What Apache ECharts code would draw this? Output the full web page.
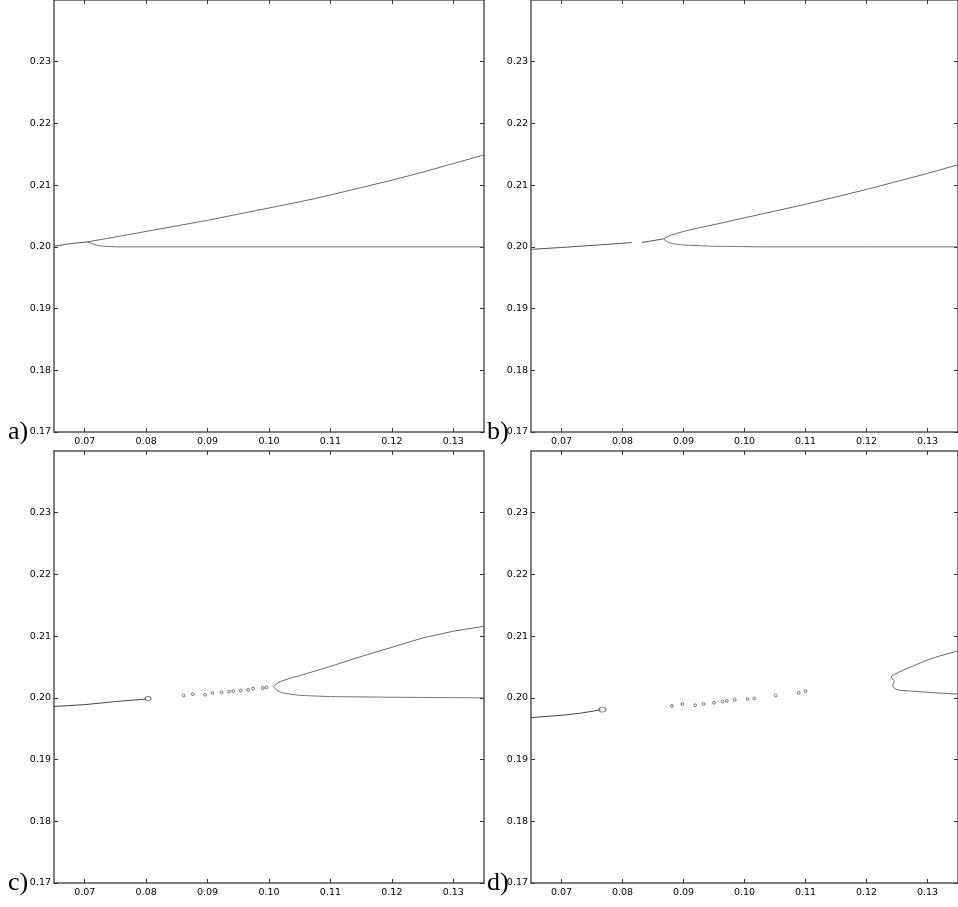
<!DOCTYPE html>
<html>
<head>
<meta charset="utf-8">
<script src="https://cdn.jsdelivr.net/npm/echarts@6/dist/echarts.min.js"></script>
<style>
html,body{margin:0;padding:0;background:#fff;}
#chart{width:958px;height:907px;}
</style>
</head>
<body>
<div id="chart"></div>
<script>
// ---- ticks & labels ----
const xTicks = [0.07, 0.08, 0.09, 0.10, 0.11, 0.12, 0.13];
const yTicks = [0.17, 0.18, 0.19, 0.20, 0.21, 0.22, 0.23];
const panelLabels = ['a)', 'b)', 'c)', 'd)'];

// ---- panel a ----
const aStemX  = [0.0650, 0.0675, 0.0704];
const aStemY  = [0.2001, 0.2005, 0.2008];
const aUpperX = [0.0704, 0.0750, 0.0800, 0.0850, 0.0900, 0.0950, 0.1000, 0.1050, 0.1100, 0.1150, 0.1200, 0.1250, 0.1300, 0.1350];
const aUpperY = [0.2008, 0.2016, 0.2025, 0.2034, 0.2043, 0.2053, 0.2063, 0.2073, 0.2084, 0.2096, 0.2108, 0.2121, 0.2135, 0.2149];
const aLowerX = [0.0704, 0.0710, 0.0718, 0.0730, 0.0752, 0.0800, 0.1000, 0.1200, 0.1350];
const aLowerY = [0.2008, 0.2006, 0.2003, 0.2001, 0.2000, 0.2000, 0.2000, 0.2000, 0.2000];

// ---- panel b ----
const bStem1X = [0.0650, 0.0700, 0.0760, 0.0815];
const bStem1Y = [0.1996, 0.1999, 0.2003, 0.2007];
const bStem2X = [0.0832, 0.0850, 0.0867];
const bStem2Y = [0.2007, 0.2010, 0.2013];
const bUpperX = [0.0867, 0.0873, 0.0880, 0.0900, 0.0921, 0.0950, 0.1000, 0.1050, 0.1100, 0.1150, 0.1200, 0.1250, 0.1300, 0.1350];
const bUpperY = [0.2013, 0.2016, 0.2019, 0.2025, 0.2030, 0.2036, 0.2047, 0.2058, 0.2069, 0.2081, 0.2093, 0.2106, 0.2119, 0.2133];
const bLowerX = [0.0867, 0.0871, 0.0876, 0.0883, 0.0900, 0.0948, 0.1029, 0.1200, 0.1350];
const bLowerY = [0.2013, 0.2010, 0.2007, 0.2005, 0.2003, 0.2001, 0.2000, 0.2000, 0.2000];

// ---- panel c ----
const cStemX  = [0.0650, 0.0700, 0.0750, 0.0800];
const cStemY  = [0.1986, 0.1989, 0.1994, 0.1998];
const cLoopX  = [0.0803];
const cLoopY  = [0.1999];
const cDotsX  = [0.0861, 0.0876, 0.0896, 0.0908, 0.0923, 0.0935, 0.0942, 0.0954, 0.0966, 0.0974, 0.0990, 0.0996];
const cDotsY  = [0.2004, 0.2006, 0.2005, 0.2008, 0.2009, 0.2010, 0.2011, 0.2012, 0.2013, 0.2015, 0.2016, 0.2017];
const cUpperX = [0.1007, 0.1010, 0.1014, 0.1020, 0.1035, 0.1050, 0.1100, 0.1150, 0.1200, 0.1250, 0.1300, 0.1350];
const cUpperY = [0.2018, 0.2021, 0.2024, 0.2027, 0.2032, 0.2036, 0.2051, 0.2067, 0.2082, 0.2097, 0.2108, 0.2116];
const cLowerX = [0.1007, 0.1011, 0.1015, 0.1022, 0.1035, 0.1050, 0.1100, 0.1200, 0.1350];
const cLowerY = [0.2018, 0.2014, 0.2011, 0.2008, 0.2006, 0.2004, 0.2002, 0.2001, 0.2000];

// ---- panel d ----
const dStemX  = [0.0650, 0.0703, 0.0730, 0.0755, 0.0764];
const dStemY  = [0.1968, 0.1972, 0.1975, 0.1979, 0.1981];
const dLoopX  = [0.0767];
const dLoopY  = [0.1981];
const dDotsX  = [0.0881, 0.0898, 0.0919, 0.0933, 0.0950, 0.0964, 0.0971, 0.0984, 0.1005, 0.1016, 0.1051, 0.1089, 0.1100];
const dDotsY  = [0.1987, 0.1990, 0.1988, 0.1990, 0.1992, 0.1994, 0.1995, 0.1997, 0.1998, 0.1999, 0.2004, 0.2008, 0.2011];
const dNoseX  = [0.1350, 0.1320, 0.1299, 0.1272, 0.1252, 0.1244, 0.1240, 0.1241, 0.1246, 0.1245, 0.1243, 0.1244, 0.1248, 0.1256, 0.1272, 0.1300, 0.1350];
const dNoseY  = [0.2076, 0.2068, 0.2061, 0.2050, 0.2041, 0.2037, 0.2034, 0.2031, 0.2027, 0.2025, 0.2021, 0.2017, 0.2014, 0.2012, 0.2011, 0.2009, 0.2006];

const zip = (xs, ys) => xs.map((x, i) => [x, ys[i]]);

const grids = [
  {left: 54,  top: 0,   width: 430, height: 432},
  {left: 531, top: 0,   width: 430, height: 432},
  {left: 54,  top: 451, width: 430, height: 432},
  {left: 531, top: 451, width: 430, height: 432}
];

const spine = {show: true, lineStyle: {color: '#555', width: 1.5}};
const tickStyle = {color: '#333', width: 1};
const labelFont = {fontSize: 9.5, fontFamily: 'DejaVu Sans', color: '#000'};

const xAxes = [], yAxes = [];
grids.forEach((g, i) => {
  xAxes.push({
    type: 'value', gridIndex: i, position: 'bottom', min: 0.065, max: 0.135,
    axisLine: spine,
    axisTick: {show: true, inside: true, length: 4, customValues: xTicks, lineStyle: tickStyle},
    axisLabel: Object.assign({show: true, customValues: xTicks, margin: 5,
      formatter: v => Number(v).toFixed(2)}, labelFont),
    splitLine: {show: false}
  });
  xAxes.push({
    type: 'value', gridIndex: i, position: 'top', min: 0.065, max: 0.135,
    axisLine: spine,
    axisTick: {show: true, inside: true, length: 4, customValues: xTicks, lineStyle: tickStyle},
    axisLabel: {show: false},
    splitLine: {show: false}
  });
  yAxes.push({
    type: 'value', gridIndex: i, position: 'left', min: 0.17, max: 0.24,
    axisLine: spine,
    axisTick: {show: true, inside: true, length: 4, customValues: yTicks, lineStyle: tickStyle},
    axisLabel: Object.assign({show: true, customValues: yTicks, margin: 3,
      formatter: v => Number(v).toFixed(2)}, labelFont),
    splitLine: {show: false}
  });
  yAxes.push({
    type: 'value', gridIndex: i, position: 'right', min: 0.17, max: 0.24,
    axisLine: spine,
    axisTick: {show: true, inside: true, length: 4, customValues: yTicks, lineStyle: tickStyle},
    axisLabel: {show: false},
    splitLine: {show: false}
  });
});

function line(panel, xs, ys, color) {
  return {
    type: 'line', xAxisIndex: panel * 2, yAxisIndex: panel * 2,
    data: zip(xs, ys), showSymbol: false, symbol: 'none', silent: true,
    smooth: false,
    lineStyle: {color: color || '#6a6a6a', width: 1}, animation: false, z: 3
  };
}
function dots(panel, xs, ys, size) {
  return {
    type: 'scatter', xAxisIndex: panel * 2, yAxisIndex: panel * 2,
    data: zip(xs, ys), symbol: 'circle', symbolSize: size, silent: true,
    itemStyle: {color: 'rgba(255,255,255,0)', borderColor: '#555', borderWidth: 1}, animation: false, z: 4
  };
}

const series = [
  line(0, aStemX, aStemY, '#555'), line(0, aUpperX, aUpperY), line(0, aLowerX, aLowerY, '#777'),
  line(1, bStem1X, bStem1Y, '#555'), line(1, bStem2X, bStem2Y, '#555'),
  line(1, bUpperX, bUpperY), line(1, bLowerX, bLowerY, '#777'),
  line(2, cStemX, cStemY, '#444'), dots(2, cLoopX, cLoopY, [6, 4]), dots(2, cDotsX, cDotsY, 2.8),
  line(2, cUpperX, cUpperY), line(2, cLowerX, cLowerY, '#777'),
  line(3, dStemX, dStemY, '#444'), dots(3, dLoopX, dLoopY, [7, 5]), dots(3, dDotsX, dDotsY, 2.8),
  line(3, dNoseX, dNoseY, '#6a6a6a')
];

const labelPos = [[8, 419], [487, 419], [8, 870], [487, 870]];
const graphic = panelLabels.map((t, i) => ({
  type: 'text', left: labelPos[i][0], top: labelPos[i][1],
  style: {text: t, font: '26px "Liberation Serif"', fill: '#000'}
}));

const chart = echarts.init(document.getElementById('chart'), null, {renderer: 'canvas'});
chart.setOption({
  animation: false,
  backgroundColor: '#fff',
  grid: grids,
  xAxis: xAxes,
  yAxis: yAxes,
  series: series,
  graphic: graphic
});
</script>
</body>
</html>
